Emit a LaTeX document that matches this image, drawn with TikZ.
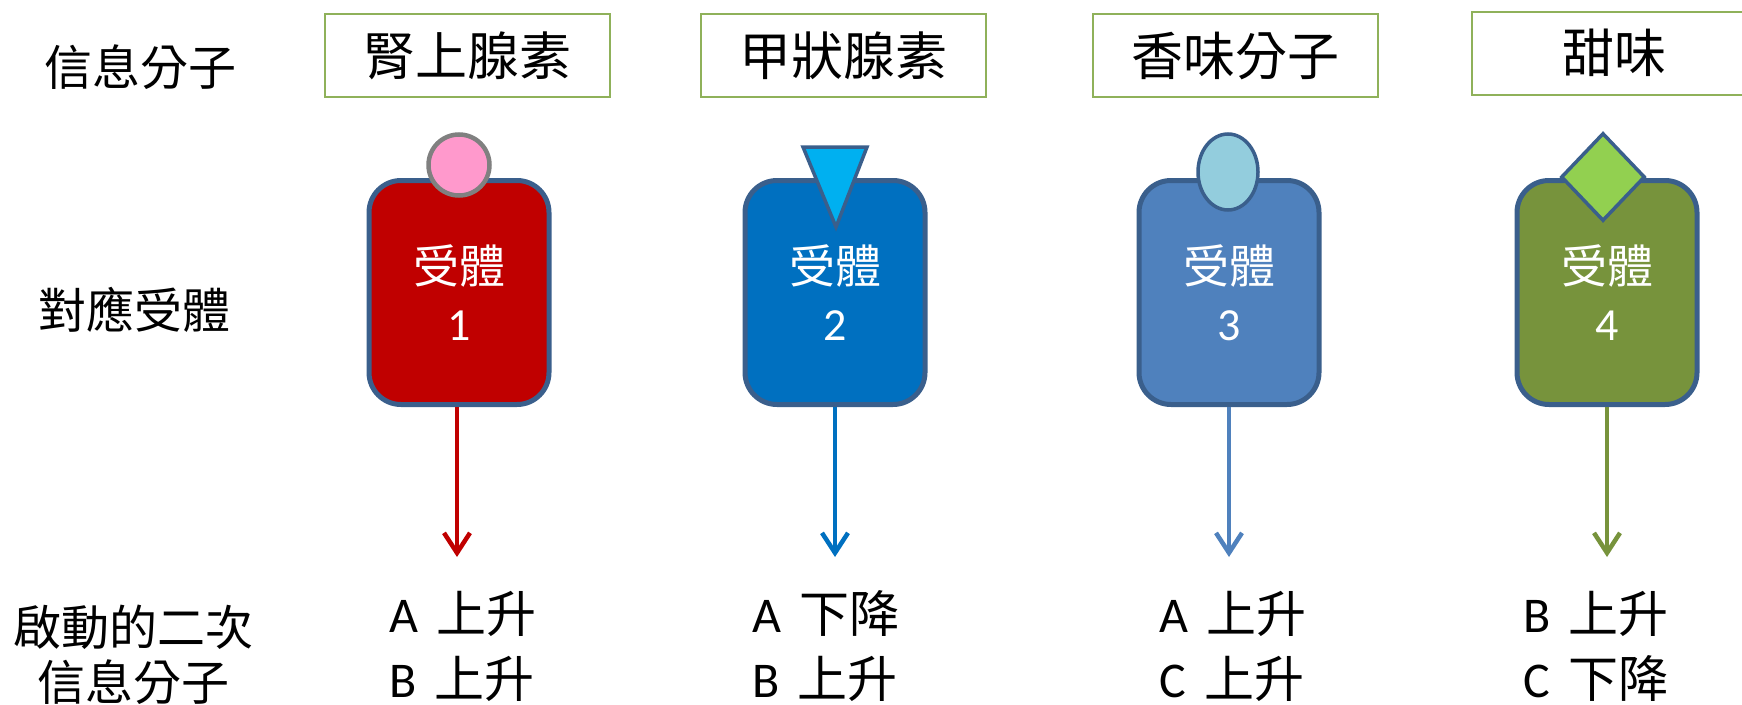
\documentclass[tikz,border=0pt]{standalone}
\usepackage{fontspec}
\setmainfont{Noto Sans CJK TC}
\newfontfamily\lat{Carlito}
\usetikzlibrary{arrows.meta,shapes.geometric}
\definecolor{boxg}{HTML}{8FB15A}
\definecolor{recb}{HTML}{3A5F8C}
\definecolor{cA}{HTML}{C00000}
\definecolor{cB}{HTML}{0070C0}
\definecolor{cC}{HTML}{4F81BD}
\definecolor{cD}{HTML}{77933C}
\definecolor{ligA}{HTML}{FF99CC}
\definecolor{ligB}{HTML}{00B0F0}
\definecolor{ligC}{HTML}{93CDDD}
\definecolor{ligD}{HTML}{92D050}
\newcommand{\ltr}[1]{{\lat #1}\hspace{18pt}}
\tikzset{
 lbl/.style={align=center, font=\fontsize{48}{55}\selectfont},
 molbox/.style={draw=boxg, line width=2pt, minimum width=285pt, minimum height=83pt, inner sep=0pt, font=\fontsize{52}{60}\selectfont},
 recep/.style={draw=recb, line width=5pt, rounded corners=32pt, minimum width=180pt, minimum height=224pt, inner sep=0pt, text=white, align=center, font=\fontsize{46}{57}\selectfont},
 outtxt/.style={align=left, font=\fontsize{50}{65}\selectfont},
 sig/.style={line width=3.5pt, -{Straight Barb[length=20pt,width=26pt,line width=4.5pt]}},
 ligline/.style={draw=recb, line width=3.5pt},
}
\begin{document}
\begin{tikzpicture}[x=1pt,y=-1pt]
\useasboundingbox (0,0) rectangle (1742,704);
% left labels
\node[lbl] (h1) at (140,67) {信息分子};
\node[lbl] (h2) at (134,310) {對應受體};
\node[lbl] (h3) at (133,655) {啟動的二次\\[0pt]信息分子};
% molecule boxes
\node[molbox] (m1) at (467,55.5) {腎上腺素};
\node[molbox] (m2) at (843,55.5) {甲狀腺素};
\node[molbox] (m3) at (1235,55.5) {香味分子};
\node[molbox] (m4) at (1614,53) {甜味};
% receptors
\node[recep, fill=cA] (r1) at (459,292.5) {受體\\{\lat 1}};
\node[recep, fill=cB] (r2) at (835,292.5) {受體\\{\lat 2}};
\node[recep, fill=cC] (r3) at (1229,292.5) {受體\\{\lat 3}};
\node[recep, fill=cD] (r4) at (1607,292.5) {受體\\{\lat 4}};
% ligands
\node[circle, draw=gray, line width=4.5pt, fill=ligA, minimum size=61pt, inner sep=0pt] (l1) at (459,165) {};
\coordinate (t2a) at (803,147);
\coordinate (t2b) at (867,147);
\coordinate (t2c) at (836,227);
\filldraw[ligline, fill=ligB, line join=miter] (t2a) -- (t2b) -- (t2c) -- cycle;
\node[ellipse, ligline, fill=ligC, minimum width=60pt, minimum height=76pt, inner sep=0pt] (l3) at (1228,172) {};
\node[diamond, ligline, fill=ligD, minimum width=84pt, minimum height=88pt, inner sep=0pt] (l4) at (1603,177) {};
% arrows
\coordinate (e1) at (457,557);
\coordinate (e2) at (835,557);
\coordinate (e3) at (1229,557);
\coordinate (e4) at (1607,557);
\draw[sig, draw=cA] (r1.south -| e1) -- (e1);
\draw[sig, draw=cB] (r2.south -| e2) -- (e2);
\draw[sig, draw=cC] (r3.south -| e3) -- (e3);
\draw[sig, draw=cD] (r4.south -| e4) -- (e4);
% outputs
\node[outtxt] (o1) at (463,646) {\ltr{A}上升\\\ltr{B}上升};
\node[outtxt] (o2) at (826,646) {\ltr{A}下降\\\ltr{B}上升};
\node[outtxt] (o3) at (1233,646) {\ltr{A}上升\\\ltr{C}上升};
\node[outtxt] (o4) at (1596,646) {\ltr{B}上升\\\ltr{C}下降};
\end{tikzpicture}
\end{document}
